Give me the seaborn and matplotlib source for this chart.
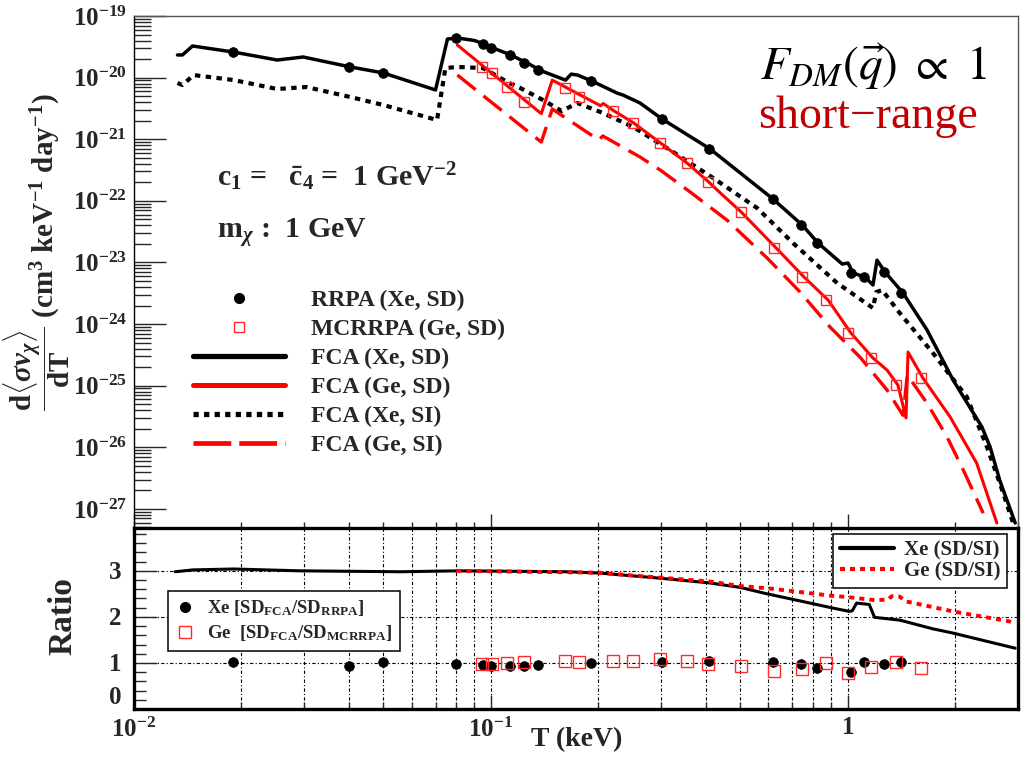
import numpy as np
import pandas as pd
import matplotlib
matplotlib.use("Agg")
import matplotlib.pyplot as plt
from matplotlib.lines import Line2D
from matplotlib.ticker import FixedLocator, LogLocator, NullFormatter, FixedFormatter
import seaborn as sns

# ---------------- data ----------------
# FCA, Xe, spin-dependent (solid black)
xe_sd_T = [0.01324, 0.01367, 0.01459, 0.0190, 0.0252, 0.0298, 0.0404, 0.0500, 0.0700,
           0.0756, 0.0806, 0.0900, 0.0966, 0.101, 0.1135, 0.121, 0.1265, 0.138, 0.162,
           0.168, 0.175, 0.192, 0.226, 0.235, 0.262, 0.302, 0.412, 0.618, 0.746, 0.827,
           0.966, 1.003, 1.036, 1.119, 1.178, 1.209, 1.273, 1.43, 1.67, 1.976, 2.38,
           2.51, 2.67, 2.95]
xe_sd_S = [2.33e-20, 2.33e-20, 3.26e-20, 2.6e-20, 1.93e-20, 2.16e-20, 1.49e-20, 1.19e-20, 6.3e-21,
           4.23e-20, 4.4e-20, 4.0e-20, 3.45e-20, 3.05e-20, 2.35e-20, 1.95e-20, 1.73e-20, 1.3e-20, 9.1e-21,
           1.14e-20, 1.10e-20, 8.8e-21, 5.6e-21, 5.2e-21, 3.87e-21, 2.13e-21, 6.93e-22, 1.07e-22, 4.05e-23, 2.06e-23,
           9.42e-24, 9.78e-24, 6.73e-24, 5.8e-24, 4.3e-24, 1.09e-23, 6.99e-24, 3.19e-24, 8.0e-25, 1.23e-25, 2.13e-26,
           1.0e-26, 2.9e-27, 5.9e-28]

# FCA, Xe, spin-independent (dotted black)
xe_si_T = [0.01324, 0.01367, 0.01469, 0.0190, 0.0252, 0.0304, 0.0404, 0.0500, 0.0707,
           0.0746, 0.0806, 0.0951, 0.1113, 0.121, 0.140, 0.158, 0.175, 0.190, 0.2029,
           0.2507, 0.3245, 0.4199, 0.5578, 0.7035, 0.935, 1.178, 1.203, 1.25, 1.40,
           1.735, 2.16, 2.46, 2.67, 2.91]
xe_si_S = [8.17e-21, 7.58e-21, 1.10e-20, 9.14e-21, 6.53e-21, 7.04e-21, 4.84e-21, 3.59e-21, 2.05e-21,
           1.43e-20, 1.49e-20, 1.43e-20, 8.49e-21, 6.78e-21, 4.33e-21, 2.87e-21, 3.87e-21, 3.2e-21, 2.77e-21,
           1.58e-21, 6.19e-22, 2.35e-22, 7.64e-23, 2.06e-23, 4.63e-24, 1.82e-24, 3.3e-24, 3.56e-24, 1.51e-24,
           3.38e-25, 6.53e-26, 1.0e-26, 2.63e-27, 5.9e-28]

# FCA, Ge, spin-dependent (solid red)
ge_sd_T = [0.0806, 0.1385, 0.1487, 0.2029, 0.2067, 0.220, 0.251, 0.298, 0.355, 0.407,
           0.440, 0.503, 0.631, 0.755, 0.882, 1.022, 1.178, 1.29, 1.384, 1.458, 1.477,
           1.626, 1.939, 2.30, 2.62]
ge_sd_S = [3.38e-20, 2.6e-21, 9.1e-21, 3.5e-21, 3.8e-21, 2.95e-21, 1.85e-21, 8.8e-22, 4.1e-22, 2.05e-22,
           1.34e-22, 6.6e-23, 1.71e-23, 5.79e-24, 2.45e-24, 7.15e-25, 2.81e-25, 1.79e-25, 1.02e-25, 3.0e-26, 3.51e-25,
           1.33e-25, 3.09e-26, 5.55e-27, 5.9e-28]

# FCA, Ge, spin-independent (dashed red)
ge_si_T = [0.0806, 0.1385, 0.1487, 0.2008, 0.206, 0.262, 0.2985, 0.362, 0.459, 0.595,
           0.736, 0.893, 1.083, 1.29, 1.43, 1.47, 1.67, 1.90, 2.11, 2.40]
ge_si_S = [1.10e-20, 9.0e-22, 3.09e-21, 9.7e-22, 1.13e-21, 5.14e-22, 3.16e-22, 1.39e-22, 4.88e-23, 1.18e-23,
           3.31e-24, 8.93e-25, 2.91e-25, 8.5e-26, 3.3e-26, 1.49e-25, 5.2e-26, 1.47e-26, 4.27e-27, 8.5e-28]

# RRPA (Xe, SD) points and their FCA/RRPA ratio
rrpa_T = [0.019, 0.040, 0.050, 0.080, 0.095, 0.100, 0.113, 0.124, 0.136, 0.191,
          0.301, 0.410, 0.616, 0.742, 0.822, 1.02, 1.115, 1.265, 1.41]
rrpa_S = [2.6e-20, 1.49e-20, 1.19e-20, 4.4e-20, 3.45e-20, 3.05e-20, 2.35e-20, 1.75e-20, 1.33e-20, 8.8e-21,
          2.13e-21, 6.9e-22, 1.07e-22, 4.05e-23, 2.06e-23, 6.7e-24, 5.8e-24, 7.0e-24, 3.2e-24]
rrpa_ratio = [1.01, 0.94, 1.01, 0.98, 0.95, 0.94, 0.94, 0.93, 0.95, 0.99,
              1.03, 1.05, 1.01, 0.98, 0.88, 0.81, 1.03, 0.98, 1.01]

# MCRRPA (Ge, SD) points and their FCA/MCRRPA ratio
mcrrpa_T = [0.0947, 0.101, 0.111, 0.124, 0.161, 0.177, 0.220, 0.251, 0.298, 0.355,
            0.407, 0.503, 0.622, 0.746, 0.871, 1.003, 1.164, 1.367, 1.606]
mcrrpa_S = [1.49e-20, 1.19e-20, 7.04e-21, 4.02e-21, 6.78e-21, 4.84e-21, 2.87e-21, 1.83e-21, 8.68e-22, 4.11e-22,
            2.02e-22, 6.58e-23, 1.71e-23, 5.79e-24, 2.45e-24, 7.15e-25, 2.81e-25, 1.02e-25, 1.33e-25]
mcrrpa_ratio = [0.98, 0.98, 0.99, 1.03, 1.05, 1.03, 1.05, 1.05, 1.08, 1.05,
                0.98, 0.94, 0.83, 0.86, 0.99, 0.79, 0.92, 1.01, 0.88]

# SD/SI ratios of the FCA curves
xe_ratio_T = [0.01304, 0.01461, 0.0190, 0.0292, 0.0559, 0.0806, 0.164, 0.203, 0.298, 0.408,
              0.50, 0.595, 0.703, 0.911, 1.01, 1.03, 1.06, 1.15, 1.19, 1.40, 1.735, 1.97, 2.95]
xe_ratio = [2.98, 3.02, 3.04, 3.00, 2.98, 3.00, 2.98, 2.95, 2.84, 2.74,
            2.64, 2.50, 2.38, 2.19, 2.12, 2.13, 2.30, 2.27, 1.99, 1.93, 1.74, 1.65, 1.32]
ge_ratio_T = [0.080, 0.20, 0.30, 0.41, 0.50, 0.60, 0.90, 1.00, 1.20, 1.30, 1.33, 1.40, 1.45, 2.00, 2.95]
ge_ratio = [3.00, 2.96, 2.85, 2.77, 2.67, 2.62, 2.46, 2.43, 2.36, 2.38, 2.45, 2.44, 2.34, 2.11, 1.88]

top_yticks = [1e-19, 1e-20, 1e-21, 1e-22, 1e-23, 1e-24, 1e-25, 1e-26, 1e-27]
top_ylabels = [r"$10^{-19}$", r"$10^{-20}$", r"$10^{-21}$", r"$10^{-22}$", r"$10^{-23}$",
               r"$10^{-24}$", r"$10^{-25}$", r"$10^{-26}$", r"$10^{-27}$"]
x_ticks = [0.01, 0.1, 1.0]
x_labels = [r"$10^{-2}$", r"$10^{-1}$", r"$1$"]
ratio_ticks = [0, 1, 2, 3]
ratio_labels = [r"$0$", r"$1$", r"$2$", r"$3$"]

# ---------------- style ----------------
sns.set_style("ticks")
plt.rcParams.update({
    "font.family": ["Liberation Serif", "DejaVu Serif"],
    "font.weight": "normal",
    "mathtext.fontset": "custom",
    "mathtext.rm": "Liberation Serif:bold",
    "mathtext.it": "Liberation Serif:italic:bold",
    "mathtext.bf": "Liberation Serif:bold",
    "xtick.direction": "in",
    "ytick.direction": "in",
    "axes.edgecolor": "black",
})

W, H = 1025, 757
fig = plt.figure(figsize=(W / 100, H / 100), dpi=100)
fig.patch.set_facecolor("white")

def fx(px):
    return px / W

def fy(py):
    return 1 - py / H

L, R = 134, 1018
ax1 = fig.add_axes([fx(L), fy(528), fx(R - L), (528 - 16) / H])
ax2 = fig.add_axes([fx(L), fy(709), fx(R - L), (709 - 528) / H])

XMAX = 10 ** ((R - 847.5) / 357)
for ax in (ax1, ax2):
    ax.set_xscale("log")
    ax.set_xlim(0.01, XMAX)
ax1.set_yscale("log")
ax1.set_ylim(10 ** -27.31, 1e-19)
ax2.set_ylim(0, 3.93)

RED = "#ff0000"
SQ = "#ff2a2a"

def line(ax, T, S, **kw):
    df = pd.DataFrame({"T": T, "S": S})
    sns.lineplot(data=df, x="T", y="S", ax=ax, sort=False, estimator=None, legend=False, **kw)

def points(ax, T, S, **kw):
    df = pd.DataFrame({"T": T, "S": S})
    sns.lineplot(data=df, x="T", y="S", ax=ax, sort=False, estimator=None, legend=False,
                 linestyle="none", **kw)

# ---------------- top panel ----------------
line(ax1, xe_si_T, xe_si_S, color="black", linewidth=3.0, linestyle=(0, (1.3, 1.3)))
line(ax1, ge_si_T, ge_si_S, color=RED, linewidth=2.4, linestyle=(0, (7, 3)))
line(ax1, ge_sd_T, ge_sd_S, color=RED, linewidth=2.2)
line(ax1, xe_sd_T, xe_sd_S, color="black", linewidth=2.5)
points(ax1, rrpa_T, rrpa_S, marker="o", ms=7, mfc="black", mec="black", mew=0.5)
points(ax1, mcrrpa_T, mcrrpa_S, marker="s", ms=7, mfc="none", mec=SQ, mew=1.0)

ax1.yaxis.set_major_locator(FixedLocator(top_yticks))
ax1.yaxis.set_major_formatter(FixedFormatter(top_ylabels))
ax1.yaxis.set_minor_locator(LogLocator(base=10, subs=np.arange(2, 10), numticks=40))
ax1.yaxis.set_minor_formatter(NullFormatter())
ax1.xaxis.set_major_locator(FixedLocator(x_ticks))
ax1.xaxis.set_minor_locator(LogLocator(base=10, subs=np.arange(2, 10), numticks=20))
ax1.xaxis.set_major_formatter(NullFormatter())
ax1.xaxis.set_minor_formatter(NullFormatter())
ax1.tick_params(axis="y", which="major", left=True, right=False, length=23, width=1.0,
                labelsize=18, pad=5)
ax1.tick_params(axis="y", which="minor", left=True, right=False, length=12, width=1.0)
ax1.tick_params(axis="x", which="major", bottom=True, top=False, length=10, width=1.0)
ax1.tick_params(axis="x", which="minor", bottom=True, top=False, length=4.5, width=1.0)
ax1.set_xlabel("")
ax1.set_ylabel("")
for side in ("top", "right"):
    ax1.spines[side].set_color("#555555")
    ax1.spines[side].set_linewidth(1.0)
ax1.spines["left"].set_linewidth(1.0)
ax1.spines["bottom"].set_visible(False)

top_handles = [
    Line2D([], [], marker="o", ls="none", ms=7, mfc="black", mec="black"),
    Line2D([], [], marker="s", ls="none", ms=6.5, mfc="none", mec=SQ, mew=1.0),
    Line2D([], [], color="black", lw=3.8),
    Line2D([], [], color=RED, lw=3.6),
    Line2D([], [], color="black", lw=3.8, ls=(0, (1.0, 1.0))),
    Line2D([], [], color=RED, lw=3.4, ls=(0, (8, 1.7))),
]
top_labels = ["RRPA (Xe, SD)", "MCRRPA (Ge, SD)", "FCA (Xe, SD)", "FCA (Ge, SD)",
              "FCA (Xe, SI)", "FCA (Ge, SI)"]
leg1 = ax1.legend(top_handles, top_labels, loc="upper left",
                  bbox_to_anchor=(fx(193), fy(290)), bbox_transform=fig.transFigure,
                  frameon=False, prop={"size": 17, "weight": "bold"},
                  handlelength=3.9, handletextpad=1.1,
                  labelspacing=0.31, borderpad=0, borderaxespad=0, numpoints=1)

# ---------------- ratio panel ----------------
line(ax2, xe_ratio_T, xe_ratio, color="black", linewidth=2.2)
line(ax2, ge_ratio_T, ge_ratio, color=RED, linewidth=2.8, linestyle=(0, (1.3, 1.3)))
points(ax2, rrpa_T, rrpa_ratio, marker="o", ms=7, mfc="black", mec="black", mew=0.5)
points(ax2, mcrrpa_T, mcrrpa_ratio, marker="s", ms=8, mfc="none", mec=SQ, mew=1.0)

ax2.xaxis.set_major_locator(FixedLocator(x_ticks))
ax2.xaxis.set_major_formatter(FixedFormatter(x_labels))
ax2.xaxis.set_minor_locator(LogLocator(base=10, subs=np.arange(2, 10), numticks=20))
ax2.xaxis.set_minor_formatter(NullFormatter())
ax2.yaxis.set_major_locator(FixedLocator(ratio_ticks))
ax2.yaxis.set_major_formatter(FixedFormatter(ratio_labels))
ax2.yaxis.set_minor_locator(FixedLocator(np.arange(0, 3.95, 0.2)))
ax2.tick_params(axis="y", which="major", left=True, right=False, length=16.5, width=1.0,
                labelsize=18, pad=9)
ax2.tick_params(axis="y", which="minor", left=True, right=False, length=8.5, width=1.0)
ax2.tick_params(axis="x", which="major", bottom=True, top=False, length=10, width=1.0,
                labelsize=18, pad=6)
ax2.tick_params(axis="x", which="minor", bottom=True, top=False, length=5, width=1.0)
grid_style = dict(color="black", linewidth=0.8, linestyle=(0, (3, 2, 1, 2)))
ax2.grid(True, which="both", axis="x", **grid_style)
ax2.grid(True, which="major", axis="y", **grid_style)
ax2.set_xlabel("")
ax2.set_ylabel("")
for side in ("top", "right", "bottom", "left"):
    ax2.spines[side].set_linewidth(2.4)
    ax2.spines[side].set_color("black")

# keep the "0" label of the ratio axis clear of the x tick labels below it
for lbl in ax2.get_yticklabels():
    if lbl.get_text() == r"$0$":
        lbl.set_verticalalignment("bottom")

left_handles = [
    Line2D([], [], marker="o", ls="none", ms=7, mfc="black", mec="black"),
    Line2D([], [], marker="s", ls="none", ms=8, mfc="none", mec=SQ, mew=1.0),
]
left_labels = [r"Xe [SD$_{\mathrm{FCA}}$/SD$_{\mathrm{RRPA}}$]",
               r"Ge  [SD$_{\mathrm{FCA}}$/SD$_{\mathrm{MCRRPA}}$]"]
leg2 = ax2.legend(left_handles, left_labels, loc="upper left",
                  bbox_to_anchor=(fx(168), fy(591)), bbox_transform=fig.transFigure,
                  frameon=True, fancybox=False, edgecolor="black",
                  prop={"size": 13.5, "weight": "bold"},
                  handlelength=1.0, handletextpad=0.7, labelspacing=0.25,
                  borderpad=0.4, borderaxespad=0, numpoints=1, framealpha=1)
leg2.get_frame().set_linewidth(1.1)
ax2.add_artist(leg2)

right_handles = [
    Line2D([], [], color="black", lw=3.0),
    Line2D([], [], color=RED, lw=3.0, ls=(0, (1.2, 1.2))),
]
right_labels = ["Xe (SD/SI)", "Ge (SD/SI)"]
leg3 = ax2.legend(right_handles, right_labels, loc="upper right",
                  bbox_to_anchor=(fx(1007), fy(534)), bbox_transform=fig.transFigure,
                  frameon=True, fancybox=False, edgecolor="black",
                  prop={"size": 15, "weight": "bold"},
                  handlelength=2.6, handletextpad=0.5, labelspacing=0.05,
                  borderpad=0.3, borderaxespad=0, framealpha=1)
leg3.get_frame().set_linewidth(1.1)

# ---------------- labels and annotations ----------------
fig.text(fx(37), fy(252),
         r"$\dfrac{\mathrm{d}\langle\sigma v_{\chi}\rangle}{\mathrm{dT}}$ (cm$^{3}$ keV$^{-1}$ day$^{-1}$)",
         rotation=90, ha="center", va="center", fontsize=21, fontweight="bold")
fig.text(fx(63), fy(616), "Ratio", rotation=90, ha="center", va="center",
         fontsize=24, fontweight="bold")
fig.text(fx(577), fy(740), "T (keV)", ha="center", va="center", fontsize=20, fontweight="bold")

fig.text(fx(217), fy(186), r"c$_{\mathrm{1}}$ =   $\bar{\mathrm{c}}_{\mathrm{4}}$ =  1 GeV$^{\mathrm{-2}}$",
         ha="left", va="baseline", fontsize=21.5, fontweight="bold")
fig.text(fx(217), fy(238), r"m$_{\chi}$ :  1 GeV", ha="left", va="baseline",
         fontsize=21.5, fontweight="bold")

fig.text(fx(873), fy(67), r"$F_{DM}(\vec{q})\ \propto\ 1$", ha="center", va="center",
         fontsize=34, math_fontfamily="stix", color="black")
fig.text(fx(868), fy(117), "short\u2212range", ha="center", va="center",
         fontsize=33, color="#c00000")

fig.savefig("out.png", dpi=100, facecolor="white")
